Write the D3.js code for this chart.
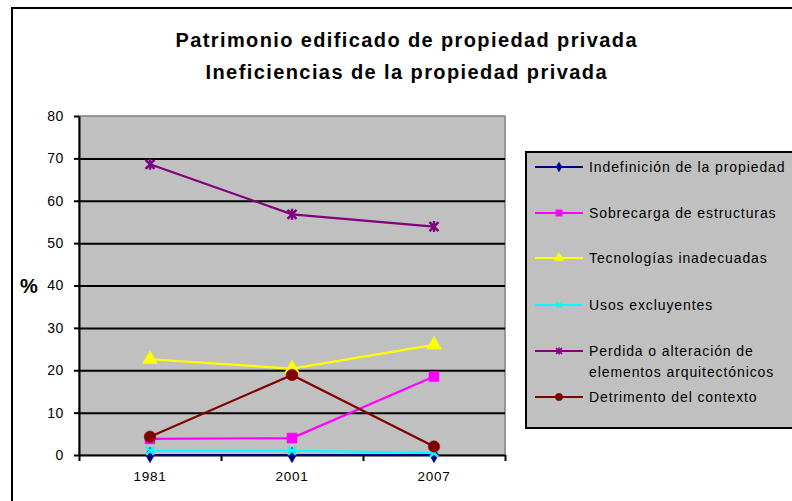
<!DOCTYPE html>
<html>
<head>
<meta charset="utf-8">
<script src="https://cdn.jsdelivr.net/npm/d3@7"></script>
<style>
  body { margin: 0; background: #fff; }
  text { font-family: "Liberation Sans", Arial, sans-serif; }
</style>
</head>
<body>
<div id="chart"></div>
<script>
"use strict";

// Data
var years = ["1981", "2001", "2007"];
var yTicks = [0, 10, 20, 30, 40, 50, 60, 70, 80];
var titleLines = ["Patrimonio edificado de propiedad privada", "Ineficiencias de la propiedad privada"];

var seriesNames = [
    "Indefinición de la propiedad",
    "Sobrecarga de estructuras",
    "Tecnologías inadecuadas",
    "Usos excluyentes",
    "Perdida o alteración de elementos arquitectónicos",
    "Detrimento del contexto"
];
var indefinicion = [0, 0, 0];
var sobrecarga = [3.8, 4.0, 18.5];
var tecnologias = [22.6, 20.4, 26.0];
var usos = [1.0, 1.0, 0.5];
var perdida = [68.6, 56.8, 53.9];
var detrimento = [4.3, 18.9, 2.0];

var seriesColors = ["#000080", "#FF00FF", "#FFFF00", "#00FFFF", "#800080", "#800000"];
var seriesMarkers = ["diamond", "square", "triangle", "cross", "star", "circle"];

var allSeries = [indefinicion, sobrecarga, tecnologias, usos, perdida, detrimento].map(function(v, i){
    return { name: seriesNames[i], values: v, color: seriesColors[i], marker: seriesMarkers[i] };
});

function renderChart(){

    var W = 792, H = 501;
    var plot = { left: 79, right: 505, top: 116, bottom: 455 };

    var svg = d3.select("#chart").append("svg")
        .attr("width", W)
        .attr("height", H);

    // Outer chart frame (runs past the window on the right and bottom)
    svg.append("rect")
        .attr("x", 12).attr("y", 8)
        .attr("width", 800).attr("height", 520)
        .attr("fill", "#fff")
        .attr("stroke", "#000")
        .attr("stroke-width", 2);

    // Title (Excel renders it rather wide)
    var titleWidths = [461, 401];
    svg.selectAll(".title")
        .data(titleLines)
        .enter().append("text")
        .attr("class", "title")
        .attr("x", 406)
        .attr("y", function(d, i){ return 47 + i * 32; })
        .attr("text-anchor", "middle")
        .attr("font-size", "20px")
        .attr("font-weight", "bold")
        .attr("textLength", function(d, i){ return titleWidths[i]; })
        .attr("lengthAdjust", "spacing")
        .text(function(d){ return d; });

    // Scales
    var xScale = d3.scaleBand().domain(years).range([plot.left, plot.right]);
    var xEdge = d3.scaleLinear().domain([0, years.length]).range([plot.left, plot.right]);
    var yScale = d3.scaleLinear().domain([0, 80]).range([plot.bottom, plot.top]);

    // Plot area
    svg.append("rect")
        .attr("x", plot.left).attr("y", plot.top)
        .attr("width", plot.right - plot.left)
        .attr("height", plot.bottom - plot.top)
        .attr("fill", "#C0C0C0")
        .attr("stroke", "#808080")
        .attr("stroke-width", 1.5);

    // Gridlines
    var grid = svg.append("g")
        .attr("transform", "translate(" + plot.left + ",0)")
        .call(d3.axisLeft(yScale).tickValues(yTicks.slice(1, -1)).tickSize(-(plot.right - plot.left)).tickFormat(""));
    grid.select(".domain").remove();
    grid.selectAll("line").attr("stroke", "#000").attr("stroke-width", 2);

    // Y axis
    var yAxis = svg.append("g")
        .attr("transform", "translate(" + plot.left + ",0)")
        .call(d3.axisLeft(yScale).tickValues(yTicks).tickSize(5).tickPadding(10).tickSizeOuter(0));
    yAxis.select(".domain").attr("stroke", "#000").attr("stroke-width", 2);
    yAxis.selectAll("line").attr("stroke", "#000").attr("stroke-width", 2);
    yAxis.selectAll("text")
        .attr("font-family", "Liberation Sans, Arial, sans-serif")
        .attr("font-size", "14px")
        .attr("letter-spacing", "0.6px")
        .attr("fill", "#000");

    // X axis: ticks at category edges, labels at centres
    var xTickAxis = svg.append("g")
        .attr("transform", "translate(0," + plot.bottom + ")")
        .call(d3.axisBottom(xEdge).tickValues(d3.range(years.length + 1)).tickSize(6).tickFormat("").tickSizeOuter(0));
    xTickAxis.select(".domain").attr("stroke", "#000").attr("stroke-width", 2);
    xTickAxis.selectAll("line").attr("stroke", "#000").attr("stroke-width", 2);

    var xAxis = svg.append("g")
        .attr("transform", "translate(0," + plot.bottom + ")")
        .call(d3.axisBottom(xScale).tickSize(0).tickPadding(16));
    xAxis.select(".domain").remove();
    xAxis.selectAll("text")
        .attr("font-family", "Liberation Sans, Arial, sans-serif")
        .attr("font-size", "13.5px")
        .attr("letter-spacing", "0.8px")
        .attr("fill", "#000");

    // Y axis title
    svg.append("text")
        .attr("x", 29).attr("y", 293)
        .attr("text-anchor", "middle")
        .attr("font-size", "20px")
        .attr("font-weight", "bold")
        .text("%");

    // Marker symbols
    function markerPath(kind){
        if(kind === "diamond") return d3.symbol().type(d3.symbolDiamond).size(70)();
        if(kind === "square") return d3.symbol().type(d3.symbolSquare).size(100)();
        if(kind === "triangle") return d3.symbol().type(d3.symbolTriangle).size(95)();
        if(kind === "circle") return d3.symbol().type(d3.symbolCircle).size(105)();
        if(kind === "cross") return "M-4,-4L4,4M-4,4L4,-4";
        return "M-4.5,-4.5L4.5,4.5M-4.5,4.5L4.5,-4.5M0,-5.5L0,5.5";
    }
    function drawMarker(sel, s, scale){
        var hollow = (s.marker === "cross" || s.marker === "star");
        sel.append("path")
            .attr("d", markerPath(s.marker))
            .attr("transform", "scale(" + scale + ")")
            .attr("fill", hollow ? "none" : s.color)
            .attr("stroke", s.color)
            .attr("stroke-width", hollow ? 2.4 : 0.5);
    }

    var line = d3.line()
        .x(function(d, i){ return xScale(years[i]) + xScale.bandwidth() / 2; })
        .y(function(d){ return yScale(d); });

    allSeries.forEach(function(s){
        svg.append("path")
            .attr("d", line(s.values))
            .attr("fill", "none")
            .attr("stroke", s.color)
            .attr("stroke-width", 2.2);

        s.values.forEach(function(v, i){
            var g = svg.append("g")
                .attr("transform", "translate(" + (xScale(years[i]) + xScale.bandwidth() / 2) + "," + yScale(v) + ")");
            drawMarker(g, s, 1);
        });
    });

    // Legend
    var legendBox = { x: 526, y: 152, w: 300, h: 276 };
    svg.append("rect")
        .attr("x", legendBox.x).attr("y", legendBox.y)
        .attr("width", legendBox.w).attr("height", legendBox.h)
        .attr("fill", "#C0C0C0")
        .attr("stroke", "#000")
        .attr("stroke-width", 2);

    var legendY = [167, 213, 258, 305, 351, 397];
    var legendLabels = [
        ["Indefinición de la propiedad"],
        ["Sobrecarga de estructuras"],
        ["Tecnologías inadecuadas"],
        ["Usos excluyentes"],
        ["Perdida o alteración de", "elementos arquitectónicos"],
        ["Detrimento del contexto"]
    ];

    allSeries.forEach(function(s, i){
        var g = svg.append("g").attr("transform", "translate(0," + legendY[i] + ")");
        g.append("line")
            .attr("x1", 535).attr("x2", 583)
            .attr("stroke", s.color)
            .attr("stroke-width", 2.2);
        var m = g.append("g").attr("transform", "translate(559,0)");
        drawMarker(m, s, 0.65);
        legendLabels[i].forEach(function(t, j){
            g.append("text")
                .attr("x", 589)
                .attr("y", 5 + j * 21)
                .attr("font-size", "14px")
                .attr("letter-spacing", "0.9px")
                .text(t);
        });
    });
}

renderChart();
</script>
</body>
</html>
